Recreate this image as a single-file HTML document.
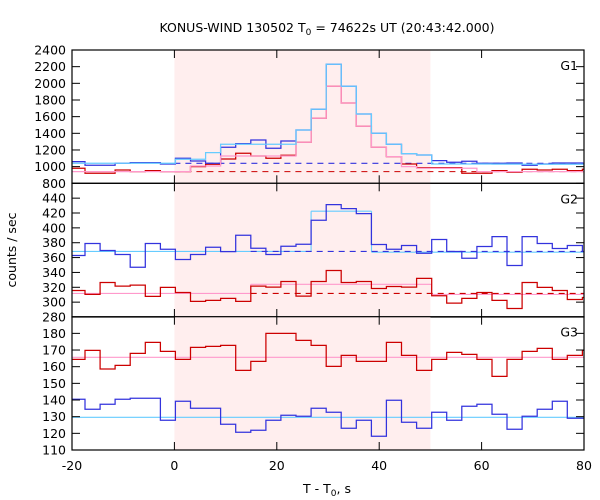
<!DOCTYPE html>
<html><head><meta charset="utf-8"><style>
html,body{margin:0;padding:0;background:#fff;}
svg{display:block;font-family:"DejaVu Sans","Liberation Sans",sans-serif;}
</style></head><body>
<svg id="chart" width="600" height="500" viewBox="0 0 600 500" xmlns="http://www.w3.org/2000/svg">
<rect x="0" y="0" width="600" height="500" fill="#fff"/>
<text x="327" y="32" text-anchor="middle" font-size="12.5">KONUS-WIND 130502 T<tspan font-size="9" dy="3">0</tspan><tspan dy="-3"> = 74622s UT (20:43:42.000)</tspan></text>
<text x="327" y="493" text-anchor="middle" font-size="12.5">T - T<tspan font-size="9" dy="3">0</tspan><tspan dy="-3">, s</tspan></text>
<text x="16" y="250" text-anchor="middle" font-size="12.5" transform="rotate(-90 16 250)">counts / sec</text>
<g id="plots"></g>
</svg>
<script>
// bins: edge k = T_START + BIN*k, k = -7..27
const T_START = 0.2;
const BIN = 2.944;
const binIndex = [-7,-6,-5,-4,-3,-2,-1,0,1,2,3,4,5,6,7,8,9,10,11,12,13,14,15,16,17,18,19,20,21,22,23,24,25,26,27];
const xTicks = [-20,0,20,40,60,80];
const shade = [0,50];

// G1
const g1Blue = [1060,1016,1016,1040,1048,1048,1032,1100,1068,1040,1232,1276,1320,1220,1308,1440,1688,2228,1964,1632,1400,1268,1156,1140,1072,1052,1064,1040,1040,1044,1016,1032,1044,1044,1040];
const g1Cyan = [1040,1040,1040,1040,1040,1040,1040,1088,1088,1168,1268,1268,1268,1268,1268,1440,1688,2228,1964,1632,1400,1268,1156,1140,1032,1032,1032,1032,1030,1030,1028,1028,1028,1028,1028];
const g1Red = [980,920,920,960,940,952,940,940,1000,1028,1092,1160,1128,1100,1136,1292,1580,1964,1764,1484,1232,1120,1032,988,988,988,920,920,952,932,968,960,968,952,968];
const g1Pink = [940,940,940,940,940,940,940,940,1008,1008,1128,1128,1128,1128,1128,1292,1580,1964,1764,1484,1232,1120,1000,980,980,980,980,940,940,940,940,940,940,940,940];
const g1Ticks = [800,1000,1200,1400,1600,1800,2000,2200,2400];
const g1Dash = [[0,80,1040,'#3333dd'],[0,80,940,'#cc0000']];

// G2
const g2Blue = [362.8,378.9,369.5,364.1,347.1,378.9,371.3,357.4,364.1,374,368,390.1,372.6,364.1,375.3,378,410.3,431.3,425.9,419.2,377.6,371.3,376.2,365.9,384.3,368.2,359.2,374.9,388.3,349.3,388.3,378.9,372.2,376.2,368.2];
const g2Red = [315.7,310.4,326.5,321.6,322.9,307.7,319.8,313,301,302.3,305,301,321.6,320.2,327.8,308.1,327.8,342.6,326.5,327.8,318.4,321.1,320.2,331.9,308.6,298.7,305,313,302.3,291.5,326.5,319.8,315.7,303.6,306.3];
const g2CyanFit = [[-20,26.7,368.2],[26.7,38.5,422.4],[38.5,80,367.3]];
const g2PinkFit = [[-20,14.9,311.7],[14.9,50.2,324.0],[50.2,80,310.4]];
const g2Ticks = [280,300,320,340,360,380,400,420,440];
const g2Dash = [[14.9,80,368.2,'#3333dd'],[14.9,80,311.7,'#cc0000']];

// G3
const g3Red = [164.4,169.8,158.6,160.8,168,174.6,169.2,164.4,171.6,172.2,172.8,157.8,163.2,180,180,175.8,172.8,160.2,166.8,163.2,163.2,174.6,166.8,157.8,164.4,168.6,167.4,164.4,154.2,164.4,169.2,171,164.4,166.8,169.8];
const g3Blue = [140.4,134.4,137.4,140.4,141,141,127.8,139.2,135,135,125.4,120.6,121.8,127.8,130.8,130.2,135,132.6,123,127.8,118.2,139.8,126.6,123,132.6,127.8,136.2,137.4,131.4,122.4,130.2,134.4,139.2,129,129];
const g3CyanFit = [[-20,80,129.6]];
const g3PinkFit = [[-20,80,165.6]];
const g3Ticks = [110,120,130,140,150,160,170,180];

const NS = 'http://www.w3.org/2000/svg';
const L = 72, R = 584;
function xs(t){ t=Math.max(-20,Math.min(80,t)); return L + (t+20)*(R-L)/100; }
function mk(tag, attrs, parent){ const e=document.createElementNS(NS,tag); for(const k in attrs) e.setAttribute(k,attrs[k]); parent.appendChild(e); return e; }
const root = document.getElementById('plots');

const panels = [
 {name:'g1', label:'G1', top:50, bot:183.3, min:800, max:2400, ticks:g1Ticks, hist:[[g1Red,'#cc0000','red'],[g1Blue,'#3333dd','blue'],[g1Pink,'#ff99cc','pink'],[g1Cyan,'#66ccff','cyan']], fits:[], dash:g1Dash},
 {name:'g2', label:'G2', top:183.3, bot:317, min:280, max:460, ticks:g2Ticks, hist:[[g2Red,'#cc0000','red'],[g2Blue,'#3333dd','blue']], fits:[[g2PinkFit,'#ff99cc','pink'],[g2CyanFit,'#66ccff','cyan']], dash:g2Dash},
 {name:'g3', label:'G3', top:316.7, bot:450, min:110, max:190, ticks:g3Ticks, hist:[[g3Red,'#cc0000','red'],[g3Blue,'#3333dd','blue']], fits:[[g3PinkFit,'#ff99cc','pink'],[g3CyanFit,'#66ccff','cyan']], dash:[]}
];

panels.forEach((p,pi)=>{
  const g = mk('g',{},root);
  
  
  const ys = v => p.bot - (v-p.min)/(p.max-p.min)*(p.bot-p.top);
  const sh = mk('rect',{x:xs(shade[0]),y:p.top,width:xs(shade[1])-xs(shade[0]),height:p.bot-p.top,fill:'#ffeeee'},g);
  
  
  p.fits.forEach(([arr,col,nm])=>{
    arr.forEach(([a,b,v])=>{
      const ln = mk('line',{x1:xs(a),x2:xs(b),y1:ys(v),y2:ys(v),stroke:col,'stroke-width':1.1},g);
      
      
    });
    for(let i=1;i<arr.length;i++){
      const ln = mk('line',{x1:xs(arr[i][0]),x2:xs(arr[i][0]),y1:ys(arr[i-1][2]),y2:ys(arr[i][2]),stroke:col,'stroke-width':1.1},g);
      
      
    }
  });
  p.dash.forEach(([a,b,v,col])=>{
    const ln = mk('line',{x1:xs(a),x2:xs(b),y1:ys(v),y2:ys(v),stroke:col,'stroke-width':1.1,'stroke-dasharray':'6,5'},g);
    
    
  });
  p.hist.forEach(([vals,col,nm])=>{
    let d='';
    vals.forEach((v,i)=>{
      const k=binIndex[i];
      const x0=xs(T_START+BIN*k), x1=xs(T_START+BIN*(k+1)), y=ys(v);
      d += (i===0?'M':'L')+x0.toFixed(1)+','+y.toFixed(1)+'L'+x1.toFixed(1)+','+y.toFixed(1);
    });
    const path = mk('path',{d:d,fill:'none',stroke:col,'stroke-width':1.25},g);
    
    
  });
  const fr = mk('rect',{x:L,y:p.top,width:R-L,height:p.bot-p.top,fill:'none',stroke:'#000','stroke-width':1.2},g);
  
  
  p.ticks.forEach(v=>{
    const y=ys(v);
    mk('line',{x1:L,x2:L+8,y1:y,y2:y,stroke:'#000','stroke-width':1},g);
    mk('line',{x1:R-8,x2:R,y1:y,y2:y,stroke:'#000','stroke-width':1},g);
    const t = mk('text',{x:L-6,y:y+4.5,'text-anchor':'end','font-size':12.5},g);
    t.textContent = v;
    
    
  });
  xTicks.forEach(v=>{
    const x=xs(v);
    mk('line',{x1:x,x2:x,y1:p.bot,y2:p.bot-8,stroke:'#000','stroke-width':1},g);
    mk('line',{x1:x,x2:x,y1:p.top,y2:p.top+8,stroke:'#000','stroke-width':1},g);
  });
  const gl = mk('text',{x:578,y:p.top+20,'text-anchor':'end','font-size':12.5},g);
  gl.textContent = p.label;
  
  
});
xTicks.forEach(v=>{
  const t = mk('text',{x:xs(v),y:470,'text-anchor':'middle','font-size':12.5},root);
  t.textContent = v;
  
  
});
</script>
</body></html>
